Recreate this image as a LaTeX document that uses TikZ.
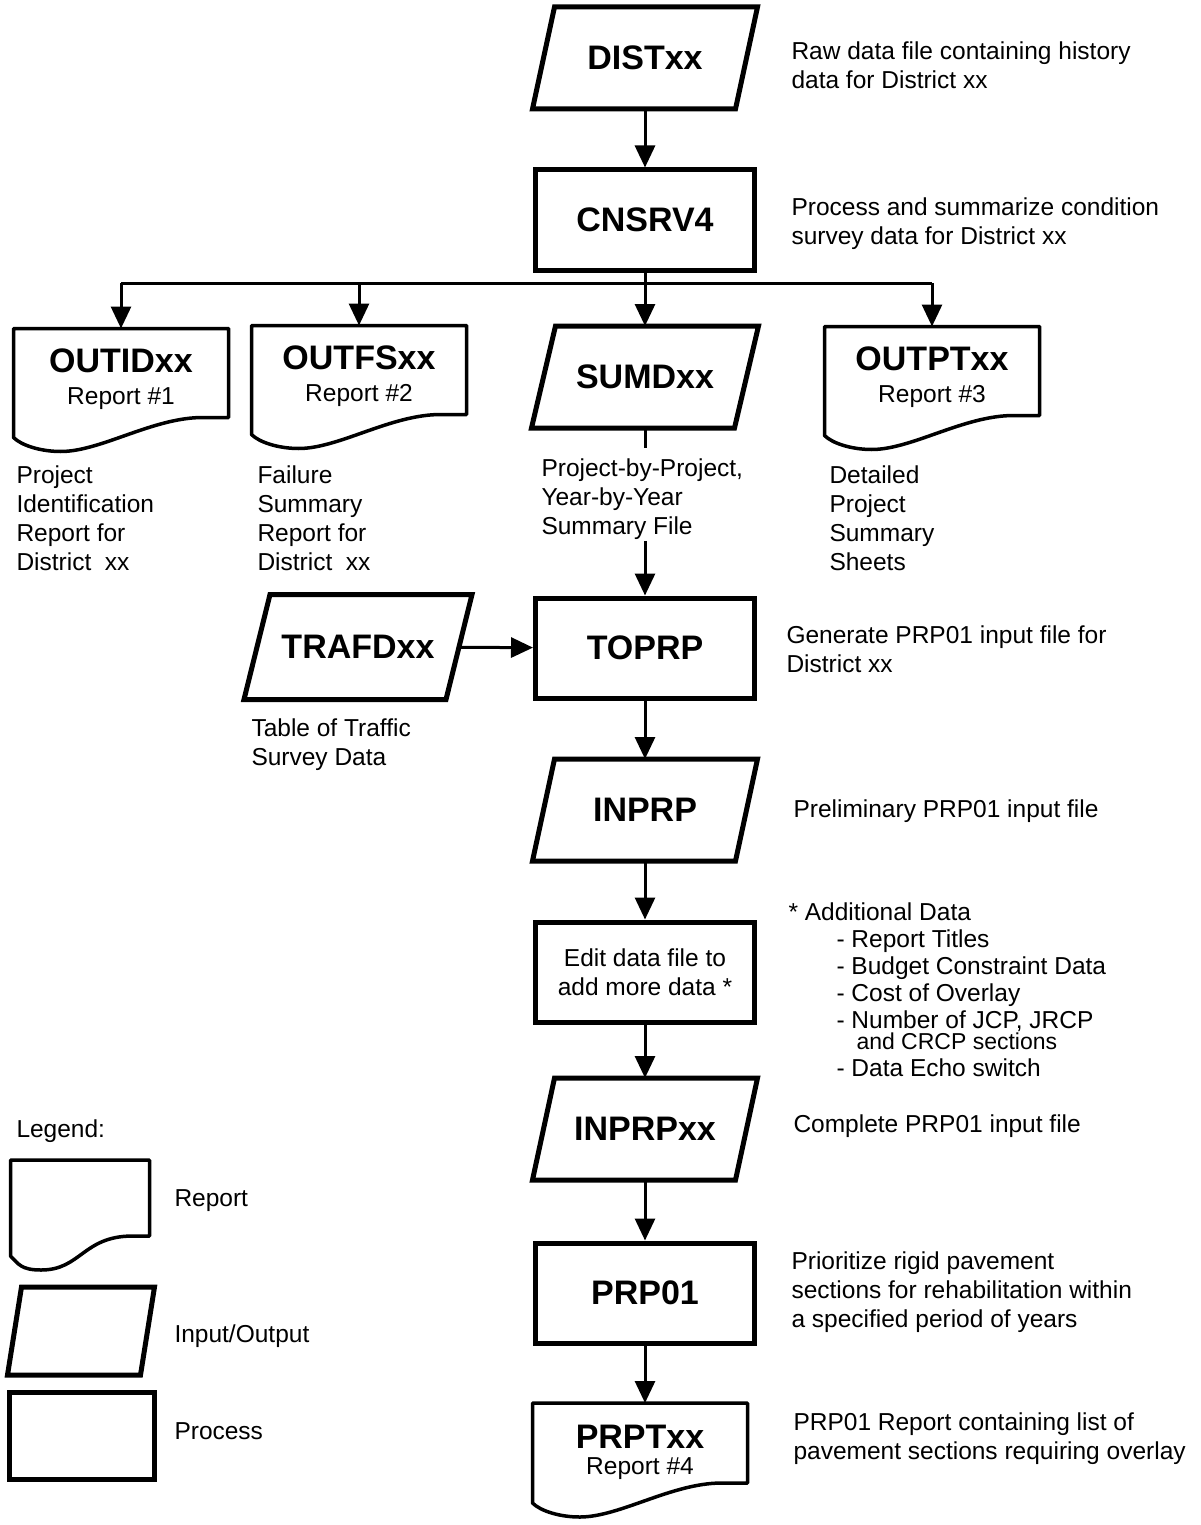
\documentclass[tikz,border=0pt]{standalone}
\usepackage{fontspec}
\setmainfont{Liberation Sans}
\usetikzlibrary{arrows.meta,calc}

\newcommand\boxfont{\fontsize{34}{38}\selectfont\bfseries}
\newcommand\descfont{\fontsize{24.5}{29}\selectfont}
% title and report number inside a report shape
\newcommand\reptext[4]{\rule{0pt}{#4}#1\\[#3]{\normalfont\descfont #2}}

\tikzset{every picture/.style={line width=3pt}}

\begin{document}
\begin{tikzpicture}[x=1pt, y=-1pt, >={Triangle[length=22pt,width=20pt]},
  io/.style={rectangle, minimum width=198pt, minimum height=97pt,
    inner sep=0pt, outer sep=2.5pt, font=\boxfont},
  ioline/.style={line width=5pt, line join=miter},
  proc/.style={rectangle, draw, line width=5pt, minimum width=219pt,
    minimum height=100pt, inner sep=0pt, align=center, font=\boxfont},
  rep/.style={rectangle, minimum width=212pt, minimum height=86pt,
    inner sep=0pt, align=center, font=\boxfont},
  desc/.style={anchor=north west, align=left, inner sep=0pt, font=\descfont},
  repline/.style={line width=3.5pt, line join=round}]
\useasboundingbox (0,0) rectangle (1200,1525);

% main column
\node[io] (dist) at (645,58) {DISTxx};
\node[proc] (cnsrv) at (645,220) {CNSRV4};
\node[rep] (outid) at (121,373) {\reptext{OUTIDxx}{Report \#1}{-6pt}{37pt}};
\node[rep] (outfs) at (359,370) {\reptext{OUTFSxx}{Report \#2}{-6pt}{37pt}};
\node[io] (sumd) at (645,377) {SUMDxx};
\node[rep] (outpt) at (932,371) {\reptext{OUTPTxx}{Report \#3}{-6pt}{37pt}};
\node[io, minimum width=197pt, minimum height=100pt] (trafd) at (358,647) {TRAFDxx};
\node[proc] (toprp) at (645,648) {TOPRP};
\node[io] (inprp) at (645,810) {INPRP};
\node[proc, font=\descfont] (edit) at (645,972) {Edit data file to\\add more data *};
\node[io] (inprpxx) at (645,1129) {INPRPxx};
\node[proc] (prp) at (645,1293) {PRP01};
\node[rep, minimum height=77pt] (prpt) at (640,1443) {\reptext{PRPTxx}{Report \#4}{-12pt}{43pt}};

% legend
\node[rep, minimum width=136pt, minimum height=73pt] (legrep) at (80,1198) {};
\node[io, minimum width=128pt, minimum height=83pt] (legio) at (81,1331) {};
\node[proc, minimum width=145pt, minimum height=87pt] (legproc) at (82,1436) {};

% report outlines
\foreach \n in {outid,outfs,outpt,prpt,legrep}
  \draw[repline] (\n.north west) -- (\n.north east) -- (\n.south east)
    -- ($(\n.south east)!0.12!(\n.south west)$)
    .. controls +(-50,0) and +(40,0) .. ($(\n.south west)!0.22!(\n.south east)+(0,34)$)
    .. controls +(-20,0) and +(8,8) .. ($(\n.south west)+(0,20)$) -- cycle;

% input/output outlines
\foreach \n/\s in {dist/22,sumd/24,trafd/26,inprp/22,inprpxx/22,legio/14}
  \draw[ioline] ($(\n.north west)+(\s/2,0)$) -- ($(\n.north east)+(\s/2,0)$)
    -- ($(\n.south east)-(\s/2,0)$) -- ($(\n.south west)-(\s/2,0)$) -- cycle;

% descriptions
\node[desc] (ddist) at (790,40) {Raw data file containing history\\data for District xx};
\node[desc] (dcnsrv) at (790,196) {Process and summarize condition\\survey data for District xx};
\node[desc] (doutid) at (15,464) {Project\\Identification\\Report for\\District~~xx};
\node[desc] (doutfs) at (256,464) {Failure\\Summary\\Report for\\District~~xx};
\node[desc] (dsumd) at (540,457) {Project-by-Project,\\Year-by-Year\\Summary File};
\node[desc] (doutpt) at (828,464) {Detailed\\Project\\Summary\\Sheets};
\node[desc] (dtrafd) at (250,717) {Table of Traffic\\Survey Data};
\node[desc] (dtoprp) at (785,624) {Generate PRP01 input file for\\District xx};
\node[desc] (dinprp) at (792,798) {Preliminary PRP01 input file};
\node[desc, font=\fontsize{24.5}{27}\selectfont] (dadd) at (787,901)
  {* Additional Data\\
   \hspace{48pt}- Report Titles\\
   \hspace{48pt}- Budget Constraint Data\\
   \hspace{48pt}- Cost of Overlay\\
   \hspace{48pt}- Number of JCP, JRCP\\[-6pt]
   \hspace{68pt}{\fontsize{23}{24}\selectfont and CRCP sections}\\
   \hspace{48pt}- Data Echo switch};
\node[desc] (dinprpxx) at (792,1113) {Complete PRP01 input file};
\node[desc] (dprp) at (790,1250) {Prioritize rigid pavement\\sections for rehabilitation within\\a specified period of years};
\node[desc] (dprpt) at (792,1411) {PRP01 Report containing list of\\pavement sections requiring overlay};

\node[desc] (leg) at (15,1118) {Legend:};
\node[desc] (lrep) at (173,1188) {Report};
\node[desc] (lio) at (173,1323) {Input/Output};
\node[desc] (lproc) at (173,1421) {Process};

% connectors
\coordinate (br) at (645,283);
\draw[->] (dist) -- (cnsrv);
\draw (cnsrv) -- (br);
\draw (outid.north |- br) -- (outpt.north |- br);
\foreach \n in {outid,outfs,sumd,outpt}
  \draw[->] (\n.north |- br) -- (\n.north);
\draw (sumd.south) -- ++(0,20);
\draw[->] (dsumd.south -| sumd.south) -- (toprp);
\draw[->] (trafd) -- (toprp);
\draw[->] (toprp) -- (inprp);
\draw[->] (inprp) -- (edit);
\draw[->] (edit) -- (inprpxx);
\draw[->] (inprpxx) -- (prp);
\draw[->] (prp) -- (prpt.north -| prp.south);
\end{tikzpicture}
\end{document}
